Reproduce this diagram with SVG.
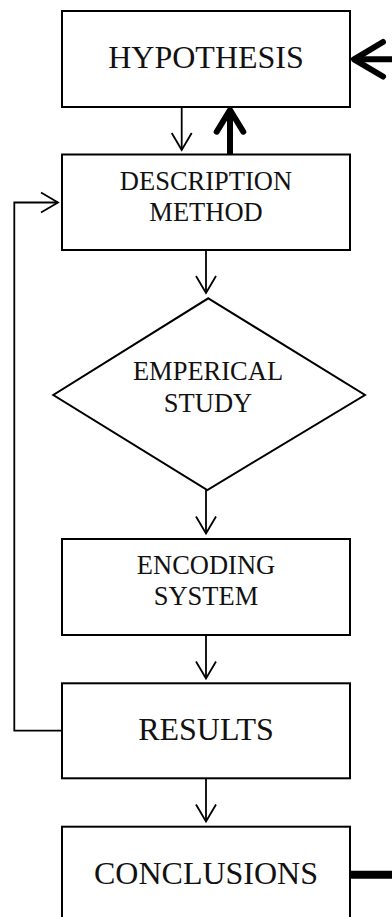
<svg xmlns="http://www.w3.org/2000/svg" width="392" height="917" viewBox="0 0 392 917">
<style>
.box{fill:#fff;stroke:#000;stroke-width:2}
.t{font-family:"Liberation Serif","Times New Roman",serif;fill:#111;text-anchor:middle}
.big{font-size:32px}
.mid{font-size:26.5px}
.thin{fill:none;stroke:#000;stroke-width:1.8}
.thick{fill:none;stroke:#000;stroke-width:6;stroke-linecap:round;stroke-linejoin:round}
</style>
<defs>
<marker id="chev" markerUnits="userSpaceOnUse" viewBox="-20 -12 22 24" markerWidth="22" markerHeight="24" refX="0" refY="0" orient="auto">
<path d="M-17,-10 L0,0 L-17,10" fill="none" stroke="#000" stroke-width="1.8"/>
</marker>
</defs>
<g id="connectors">
<line class="thin" x1="181.7" y1="107" x2="181.7" y2="150" marker-end="url(#chev)"/>
<line class="thin" x1="206" y1="250" x2="206" y2="293" marker-end="url(#chev)"/>
<line class="thin" x1="206" y1="490" x2="206" y2="533.5" marker-end="url(#chev)"/>
<line class="thin" x1="206" y1="635" x2="206" y2="678.5" marker-end="url(#chev)"/>
<line class="thin" x1="206" y1="778" x2="206" y2="821.5" marker-end="url(#chev)"/>
<polyline class="thin" points="62,730.7 14.3,730.7 14.3,202.5 58,202.5" marker-end="url(#chev)"/>
<line class="thick" x1="230" y1="154" x2="230" y2="111" stroke-linecap="butt"/>
<polyline class="thick" points="216.7,131.7 230,110 243.3,131.7"/>
<line class="thick" x1="392" y1="59.3" x2="356" y2="59.3" stroke-linecap="butt"/>
<polyline class="thick" points="383,42 354,59.3 383,76.5"/>
<line x1="351" y1="874.7" x2="392" y2="874.7" stroke="#000" stroke-width="8"/>
</g>
<g id="hypothesis">
<rect class="box" x="62" y="11" width="288" height="96"/>
<text class="t big" x="206" y="67.7">HYPOTHESIS</text>
</g>
<g id="description">
<rect class="box" x="62" y="154.5" width="288" height="95.5"/>
<text class="t mid" x="206" y="190">DESCRIPTION</text>
<text class="t mid" x="206" y="220.7">METHOD</text>
</g>
<g id="emperical">
<polygon class="box" points="208.3,298.3 365,395 207.3,490 53.3,395"/>
<text class="t mid" x="208" y="380">EMPERICAL</text>
<text class="t mid" x="208" y="411.7">STUDY</text>
</g>
<g id="encoding">
<rect class="box" x="62" y="539" width="288" height="96"/>
<text class="t mid" x="206" y="574">ENCODING</text>
<text class="t mid" x="206" y="605">SYSTEM</text>
</g>
<g id="results">
<rect class="box" x="62" y="683.3" width="288" height="95"/>
<text class="t big" x="206" y="740">RESULTS</text>
</g>
<g id="conclusions">
<rect class="box" x="62" y="826.7" width="288" height="100"/>
<text class="t big" x="206" y="884">CONCLUSIONS</text>
</g>
</svg>
